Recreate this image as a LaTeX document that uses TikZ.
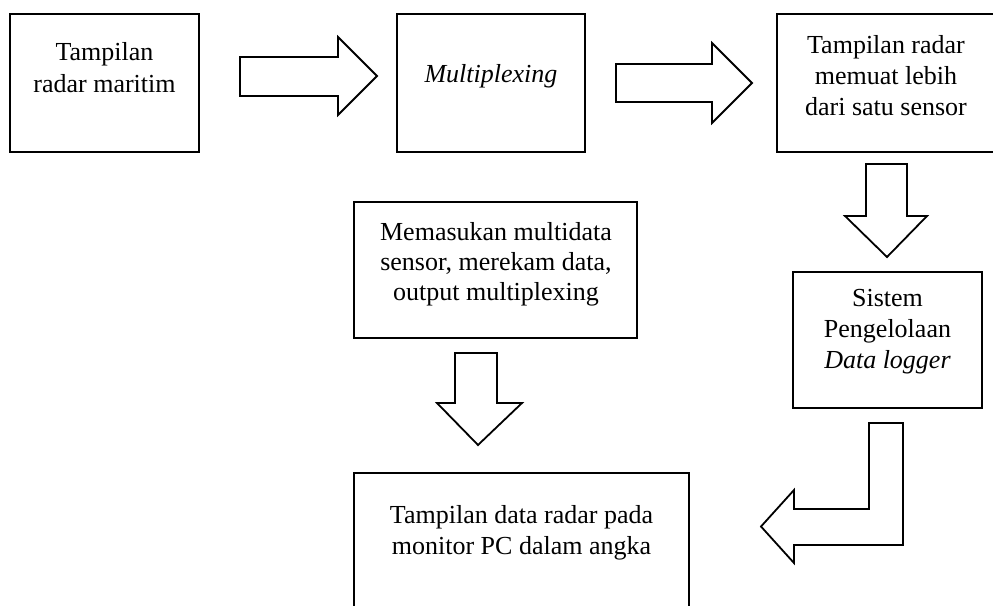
\documentclass[tikz,border=0pt]{standalone}
\usepackage{fontspec}
\setmainfont{Liberation Serif}
\begin{document}
\begin{tikzpicture}[x=1pt,y=-1pt,
  box/.style={draw, line width=1.8pt, inner sep=0pt},
  txt/.style={align=center, inner sep=0pt, font=\fontsize{26}{31}\selectfont},
  blockarrow/.style={draw, line width=1.8pt, line join=miter, fill=white}]
\useasboundingbox (0,0) rectangle (993,605);
\clip (0,0) rectangle (993,605);
% boxes
\node[box, minimum width=189pt, minimum height=138pt] (b1) at (104.5,83) {};
\node[box, minimum width=188pt, minimum height=138pt] (b2) at (491,83) {};
\node[box, minimum width=223pt, minimum height=138pt] (b3) at (888.5,83) {};
\node[box, minimum width=283pt, minimum height=136pt] (b4) at (495.5,270) {};
\node[box, minimum width=189pt, minimum height=136pt] (b5) at (887.5,340) {};
\node[box, minimum width=335pt, minimum height=147pt] (b6) at (521.5,546.5) {};
% texts
\node[txt, font=\fontsize{26}{32}\selectfont] (t1) at (104.5,68) {Tampilan\\radar maritim};
\node[txt] (t2) at (491,76.5) {\textit{Multiplexing}};
\node[txt] (t3) at (886,75.5) {Tampilan radar\\memuat lebih\\dari satu sensor};
\node[txt, font=\fontsize{26}{30}\selectfont] (t4) at (496,264) {Memasukan multidata\\sensor, merekam data,\\output multiplexing};
\node[txt] (t5) at (887.5,331.5) {Sistem\\Pengelolaan\\\textit{Data logger}};
\node[txt] (t6) at (521.5,533) {Tampilan data radar pada\\monitor PC dalam angka};
% block arrows
\draw[blockarrow] (240,57) -- (338,57) -- (338,37) -- (377,76) -- (338,115) -- (338,96) -- (240,96) -- cycle;
\draw[blockarrow] (616,64) -- (712,64) -- (712,43) -- (752,83) -- (712,123) -- (712,102) -- (616,102) -- cycle;
\draw[blockarrow] (866,164) -- (907,164) -- (907,216) -- (927,216) -- (887,257) -- (845,216) -- (866,216) -- cycle;
\draw[blockarrow] (455,353) -- (497,353) -- (497,403) -- (522,403) -- (478,445) -- (437,403) -- (455,403) -- cycle;
\draw[blockarrow] (869,423) -- (903,423) -- (903,545) -- (794,545) -- (794,563) -- (761,526.5) -- (794,490) -- (794,509) -- (869,509) -- cycle;
\end{tikzpicture}
\end{document}
